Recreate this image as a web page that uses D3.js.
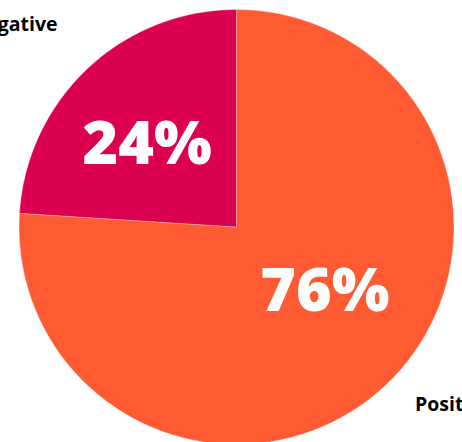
<!DOCTYPE html>
<html>
<head>
<meta charset="utf-8">
<script src="https://cdn.jsdelivr.net/npm/d3@7"></script>
<style>
  html, body { margin: 0; padding: 0; background: #fff; overflow: hidden; }
  svg { display: block; }
</style>
</head>
<body>
<svg id="chart" width="462" height="442"></svg>
<script>
// Data
const categories = ["Positive", "Negative"];
const values = [76, 24];
const colors = ["#FF5A31", "#DB0050"];

const width = 462, height = 442;
const cx = 236.5, cy = 227, radius = 217.5;

const svg = d3.select("#chart");
const g = svg.append("g").attr("transform", `translate(${cx},${cy})`);

const data = categories.map((c, i) => ({ category: c, value: values[i], color: colors[i] }));

const pie = d3.pie().sort(null).value(d => d.value);
const arcs = pie(data);

const arc = d3.arc().innerRadius(0).outerRadius(radius);

g.selectAll("path.slice")
  .data(arcs)
  .join("path")
  .attr("class", "slice")
  .attr("d", arc)
  .attr("fill", d => d.data.color)
  .attr("stroke", "rgba(255,255,255,0.35)")
  .attr("stroke-width", 0.8);

// percentage labels
const labelArc = d3.arc().innerRadius(0).outerRadius(radius * 1.08);
const nudges = { Positive: [8, -24], Negative: [-9, 1] };
g.selectAll("text.pct")
  .data(arcs)
  .join("text")
  .attr("class", "pct")
  .attr("transform", d => {
    const [x, y] = labelArc.centroid(d);
    const n = nudges[d.data.category];
    return `translate(${x + n[0]},${y + n[1]})`;
  })
  .attr("text-anchor", "middle")
  .attr("dy", "0.36em")
  .attr("fill", "#fff")
  .style("font-family", "'Open Sans', sans-serif")
  .style("font-weight", 800)
  .style("font-size", "61px")
  .text(d => d.data.value + "%");

// outside category labels
g.selectAll("text.cat")
  .data(arcs)
  .join("text")
  .attr("class", "cat")
  .attr("x", d => d.data.category === "Negative" ? -179 : 178.5)
  .attr("y", d => d.data.category === "Negative" ? -196 : 184)
  .attr("text-anchor", d => d.data.category === "Negative" ? "end" : "start")
  .attr("fill", "#000")
  .style("font-family", "'Open Sans', sans-serif")
  .style("font-weight", 700)
  .style("font-size", "19.5px")
  .text(d => d.data.category);
</script>
</body>
</html>
